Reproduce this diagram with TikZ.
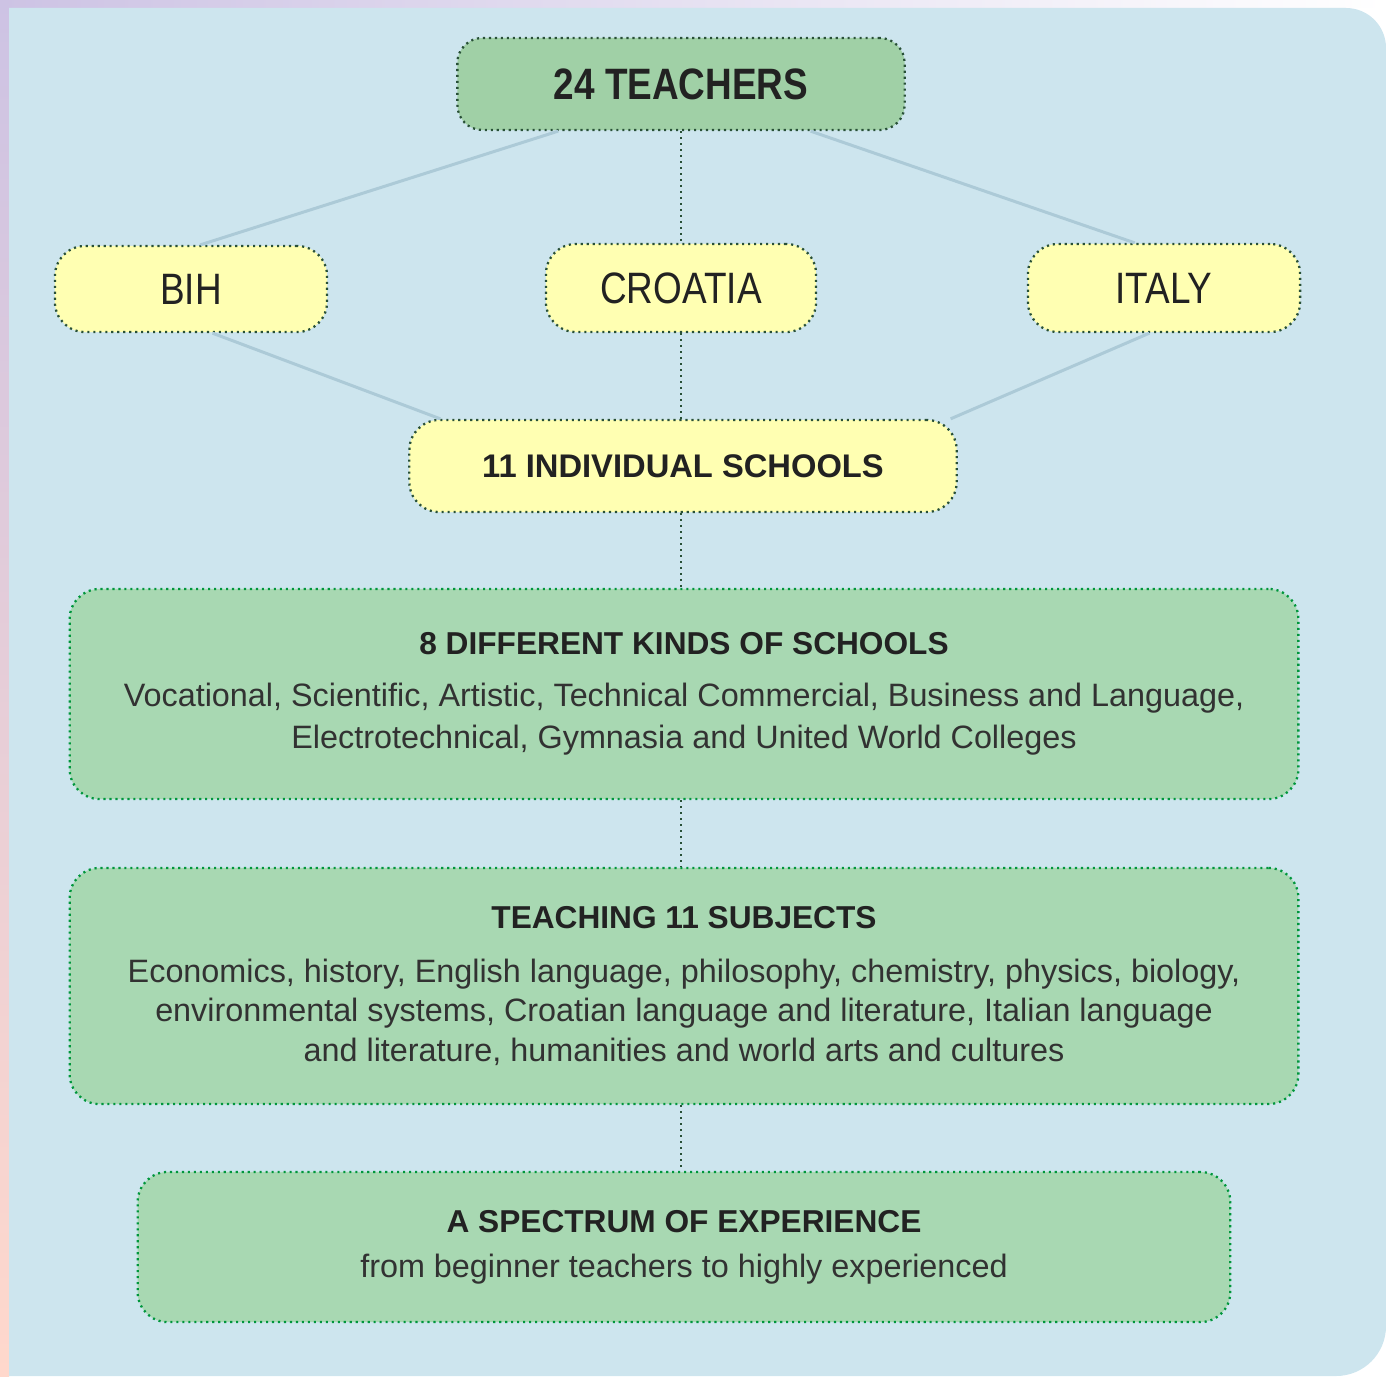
\documentclass[tikz,border=0pt]{standalone}
\usepackage{fontspec}
\setmainfont{Liberation Sans}
\newfontfamily\narrowfont{Liberation Sans}[FakeStretch=0.84]
\usetikzlibrary{positioning}
\definecolor{bgblue}{RGB}{205,229,238}
\definecolor{headgreen}{RGB}{160,208,166}
\definecolor{boxgreen}{RGB}{168,216,178}
\definecolor{boxyellow}{RGB}{255,255,178}
\definecolor{dotdark}{RGB}{40,80,55}
\definecolor{dotgreen}{RGB}{0,150,60}
\definecolor{linegrey}{RGB}{172,202,215}
\definecolor{textdark}{RGB}{34,34,34}
\definecolor{textgrey}{RGB}{50,50,50}
\definecolor{stripLav}{RGB}{205,195,228}
\definecolor{stripMid}{RGB}{235,234,230}
\definecolor{stripPeach}{RGB}{255,216,204}

\tikzset{
    dotline/.style={line width=0.65pt, dash pattern=on 0.6pt off 1.1pt},
    headbox/.style={dotline, draw=dotdark, fill=headgreen, rounded corners=0.25cm, text=textdark},
    countrybox/.style={dotline, draw=dotdark, fill=boxyellow, rounded corners=0.3cm, text=textdark},
    infobox/.style={dotline, draw=dotgreen, fill=boxgreen, rounded corners=0.3cm, align=center, text=textgrey},
    softline/.style={draw=linegrey, line width=0.85pt},
    linkline/.style={dotline, draw=dotdark},
}
\newcommand{\boxtitle}[1]{{\fontsize{9}{11.5}\selectfont\bfseries\color{textdark}#1}}

\begin{document}
\begin{tikzpicture}[x=0.01cm, y=-0.01cm]
\useasboundingbox (0,0) rectangle (1386,1376);

% Background panel.
\shade[top color=stripLav, middle color=stripMid, bottom color=stripPeach] (0,0) rectangle (9,1376);
\shade[left color=stripLav, right color=white] (0,0) rectangle (1386,8);
\fill[bgblue] (9,1376) -- (9,8) -- (1346,8) to[out=0, in=90] (1386,48) -- (1386,1326) to[out=-90, in=0] (1336,1376) -- cycle;

% Defining nodes.
\node[headbox, minimum width=4.47cm, minimum height=0.92cm, font=\narrowfont\fontsize{12.5}{14}\selectfont\bfseries] (teachers) at (681,84) {24 TEACHERS};
\node[countrybox, minimum width=2.72cm, minimum height=0.86cm, font=\narrowfont\fontsize{12.5}{14}\selectfont] (bih) at (191,289) {BIH};
\node[countrybox, minimum width=2.70cm, minimum height=0.88cm, font=\narrowfont\fontsize{12.5}{14}\selectfont] (croatia) at (681,288) {CROATIA};
\node[countrybox, minimum width=2.72cm, minimum height=0.88cm, font=\narrowfont\fontsize{12.5}{14}\selectfont] (italy) at (1164,288) {ITALY};
\node[countrybox, minimum width=5.47cm, minimum height=0.92cm, font=\fontsize{9.3}{12}\selectfont\bfseries] (schools) at (683,466) {11 INDIVIDUAL SCHOOLS};

\node[infobox, minimum width=12.28cm, minimum height=2.10cm, font=\fontsize{9.2}{11.8}\selectfont] (kinds) at (684,694)
    {\boxtitle{8 DIFFERENT KINDS OF SCHOOLS}\\[3pt]
     Vocational, Scientific, Artistic, Technical Commercial, Business and Language,\\
     Electrotechnical, Gymnasia and United World Colleges};
\node[infobox, minimum width=12.28cm, minimum height=2.36cm, font=\fontsize{9.2}{11.2}\selectfont] (subjects) at (684,986)
    {\boxtitle{TEACHING 11 SUBJECTS}\\[4pt]
     Economics, history, English language, philosophy, chemistry, physics, biology,\\
     environmental systems, Croatian language and literature, Italian language\\
     and literature, humanities and world arts and cultures};
\node[infobox, minimum width=10.92cm, minimum height=1.50cm, font=\fontsize{9.2}{11.8}\selectfont] (spectrum) at (684,1247)
    {\boxtitle{A SPECTRUM OF EXPERIENCE}\\[1pt]
     from beginner teachers to highly experienced};

% Country links.
\draw[softline] (teachers.201.5) -- (bih.78);
\draw[softline] (teachers.340) -- (italy.123);
\draw[softline] (bih.296) -- (schools.169);
\draw[softline] (italy.252) -- (schools.10.6);

% Dotted spine.
\draw[linkline] (teachers.south) -- (croatia.north);
\draw[linkline] (croatia.south) -- (croatia.south |- schools.north);
\draw[linkline] (croatia.south |- schools.south) -- (croatia.south |- kinds.north);
\draw[linkline] (croatia.south |- kinds.south) -- (croatia.south |- subjects.north);
\draw[linkline] (croatia.south |- subjects.south) -- (croatia.south |- spectrum.north);

\end{tikzpicture}
\end{document}
